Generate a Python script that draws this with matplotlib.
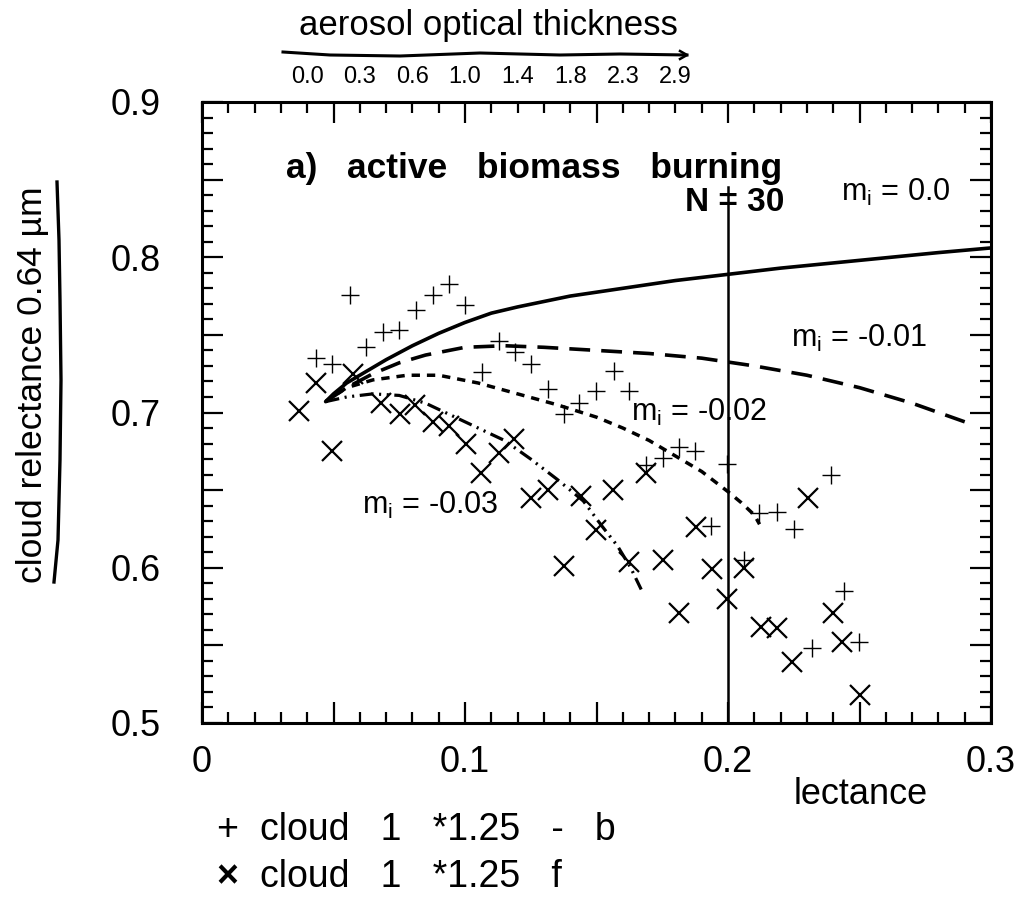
import matplotlib
matplotlib.use('Agg')
import matplotlib.pyplot as plt
import matplotlib.transforms as mtransforms
from matplotlib.lines import Line2D
from matplotlib.ticker import MultipleLocator

plt.rcParams['font.family'] = ['Liberation Sans', 'DejaVu Sans']
plt.rcParams['mathtext.fontset'] = 'custom'
plt.rcParams['mathtext.rm'] = 'Liberation Sans'
plt.rcParams['lines.scale_dashes'] = False

# observations: cloud 1 *1.25 - b  (+)
plus_x = [0.0435, 0.0496, 0.0562, 0.0625, 0.0688, 0.0749, 0.0815, 0.0878, 0.0941,
          0.1001, 0.1065, 0.1128, 0.1192, 0.1251, 0.1314, 0.1378, 0.1435, 0.1498,
          0.1565, 0.1624, 0.1688, 0.1751, 0.1814, 0.1875, 0.1934, 0.1997, 0.2061,
          0.2118, 0.2187, 0.2250, 0.2319, 0.2390, 0.2440, 0.2497]
plus_y = [0.735, 0.731, 0.776, 0.742, 0.752, 0.753, 0.766, 0.776, 0.783,
          0.769, 0.726, 0.746, 0.739, 0.731, 0.715, 0.699, 0.706, 0.714,
          0.727, 0.714, 0.666, 0.671, 0.678, 0.675, 0.627, 0.667, 0.605,
          0.635, 0.636, 0.625, 0.548, 0.660, 0.585, 0.552]

# observations: cloud 1 *1.25 f  (x)
cross_x = [0.0370, 0.0435, 0.0496, 0.0574, 0.0682, 0.0751, 0.0808, 0.0878, 0.0941,
           0.1005, 0.1061, 0.1131, 0.1188, 0.1251, 0.1314, 0.1378, 0.1441, 0.1498,
           0.1561, 0.1624, 0.1688, 0.1751, 0.1814, 0.1877, 0.1940, 0.1997, 0.2061,
           0.2124, 0.2187, 0.2244, 0.2305, 0.2400, 0.2433, 0.2503]
cross_y = [0.701, 0.719, 0.675, 0.725, 0.706, 0.699, 0.705, 0.694, 0.691,
           0.680, 0.661, 0.674, 0.683, 0.645, 0.650, 0.601, 0.646, 0.624,
           0.650, 0.604, 0.661, 0.605, 0.571, 0.626, 0.599, 0.580, 0.600,
           0.562, 0.561, 0.539, 0.645, 0.571, 0.552, 0.518]

# model curves for imaginary refractive index m_i
mi0_x = [0.047, 0.05, 0.055, 0.06, 0.07, 0.08, 0.09, 0.10, 0.11, 0.12, 0.14,
         0.16, 0.18, 0.20, 0.22, 0.25, 0.28, 0.30]
mi0_y = [0.707, 0.712, 0.719, 0.724, 0.734, 0.743, 0.751, 0.758, 0.764, 0.768,
         0.775, 0.780, 0.785, 0.789, 0.793, 0.798, 0.803, 0.806]

mi1_x = [0.047, 0.055, 0.065, 0.075, 0.085, 0.10, 0.115, 0.13, 0.15, 0.17,
         0.19, 0.21, 0.23, 0.25, 0.27, 0.29]
mi1_y = [0.707, 0.716, 0.725, 0.732, 0.737, 0.742, 0.743, 0.742, 0.740, 0.738,
         0.735, 0.730, 0.724, 0.716, 0.706, 0.694]

mi2_x = [0.047, 0.055, 0.065, 0.078, 0.09, 0.105, 0.12, 0.135, 0.15, 0.16,
         0.17, 0.18, 0.19, 0.20, 0.205, 0.21, 0.212]
mi2_y = [0.707, 0.716, 0.721, 0.724, 0.724, 0.719, 0.712, 0.705, 0.697, 0.690,
         0.682, 0.672, 0.662, 0.649, 0.642, 0.634, 0.628]

mi3_x = [0.047, 0.055, 0.065, 0.075, 0.085, 0.095, 0.105, 0.115, 0.125, 0.135,
         0.145, 0.152, 0.158, 0.163, 0.167]
mi3_y = [0.707, 0.710, 0.712, 0.711, 0.706, 0.698, 0.690, 0.682, 0.670, 0.657,
         0.643, 0.627, 0.614, 0.600, 0.586]

# N = 30 line
n30_x = [0.2, 0.2]
n30_y = [0.5, 0.845]

# axis ticks
xticks = [0, 0.05, 0.1, 0.15, 0.2, 0.25, 0.3]
xtick_labels = ['0', '', '0.1', '', '0.2', '', '0.3']
yticks = [0.5, 0.55, 0.6, 0.65, 0.7, 0.75, 0.8, 0.85, 0.9]
ytick_labels = ['0.5', '', '0.6', '', '0.7', '', '0.8', '', '0.9']
aot_pos = [0.04, 0.06, 0.08, 0.10, 0.12, 0.14, 0.16, 0.18]
aot_labels = ['0.0', '0.3', '0.6', '1.0', '1.4', '1.8', '2.3', '2.9']

W, H = 1034, 909
fig = plt.figure(figsize=(W / 100, H / 100), dpi=100)
ax = fig.add_axes([202 / W, 1 - 723 / H, (991 - 202) / W, (723 - 102) / H])

ax.plot(mi0_x, mi0_y, color='black', lw=2.6, solid_capstyle='round')
ax.plot(mi1_x, mi1_y, color='black', lw=2.6, dashes=(15, 8))
ax.plot(mi2_x, mi2_y, color='black', lw=2.5, dashes=(6, 5))
ax.plot(mi3_x, mi3_y, color='black', lw=2.3, dashes=(10, 4, 1.5, 4, 1.5, 4))
ax.plot(n30_x, n30_y, color='black', lw=1.8)

ax.plot(plus_x, plus_y, ls='none', marker='+', ms=13, mew=1.0, color='black')
ax.plot(cross_x, cross_y, ls='none', marker='x', ms=14, mew=1.6, color='black')

ax.set_xlim(0, 0.3)
ax.set_ylim(0.5, 0.9)
ax.set_xticks(xticks, labels=xtick_labels)
ax.set_yticks(yticks, labels=ytick_labels)
ax.xaxis.set_minor_locator(MultipleLocator(0.01))
ax.yaxis.set_minor_locator(MultipleLocator(0.01))
ax.tick_params(which='both', direction='in', top=True, right=True, width=1.6,
               labelsize=26)
ax.tick_params(which='major', length=15)
ax.tick_params(which='minor', length=8)
ax.tick_params(axis='x', pad=16)
ax.tick_params(axis='y', pad=30)
for s in ax.spines.values():
    s.set_linewidth(2.2)

sec = ax.secondary_xaxis('top')
sec.set_xticks(aot_pos, labels=aot_labels)
sec.tick_params(length=0, pad=10, labelsize=17)
sec.spines['top'].set_visible(False)

ax.set_xlabel('lectance', fontsize=26)
ax.xaxis.set_label_coords((861 - 202) / (991 - 202), (723 - 795) / 621)
ax.xaxis.label.set_va('center')

# annotations
ax.text(0.032, 0.857, 'a)   active   biomass   burning', fontsize=25.5,
        fontweight='bold', va='center', ha='left')
off = mtransforms.offset_copy(ax.transData, fig=fig, x=5, y=0, units='points')
ax.text(0.2, 0.835, 'N = 30', fontsize=24, fontweight='bold', va='center',
        ha='center', transform=off)
ax.text(0.243, 0.842, r'$\mathregular{m_i}$ = 0.0', fontsize=22, va='center')
ax.text(0.224, 0.748, r'$\mathregular{m_i}$ = -0.01', fontsize=22, va='center')
ax.text(0.163, 0.700, r'$\mathregular{m_i}$ = -0.02', fontsize=22, va='center')
ax.text(0.061, 0.640, r'$\mathregular{m_i}$ = -0.03', fontsize=22, va='center')

fig.text(488 / W, 1 - 25 / H, 'aerosol optical thickness', fontsize=25,
         ha='center', va='center')
fig.text(33 / W, 1 - 385 / H, 'cloud relectance 0.64 µm', fontsize=25.5,
         rotation=90, ha='center', va='center')

# hand drawn brackets
top_x = [283, 330, 400, 480, 560, 620, 687]
top_y = [52, 55, 56, 53, 55, 54, 55]
fig.add_artist(Line2D([v / W for v in top_x], [1 - v / H for v in top_y],
                      color='black', lw=2.2))
fig.add_artist(Line2D([680 / W, 687 / W, 680 / W],
                      [1 - 51 / H, 1 - 55 / H, 1 - 59 / H], color='black', lw=1.8))
left_x = [57, 59, 60, 61, 60, 58, 54]
left_y = [182, 240, 300, 380, 460, 540, 582]
fig.add_artist(Line2D([v / W for v in left_x], [1 - v / H for v in left_y],
                      color='black', lw=2.4))

# legend
fig.text(227 / W, 1 - 830 / H, '+', fontsize=27, ha='center', va='center')
fig.text(260 / W, 1 - 830 / H, 'cloud   1   *1.25   -   b', fontsize=27,
         ha='left', va='center')
fig.text(227 / W, 1 - 877 / H, '×', fontsize=27, fontweight='bold',
         ha='center', va='center')
fig.text(260 / W, 1 - 877 / H, 'cloud   1   *1.25   f', fontsize=27,
         ha='left', va='center')

fig.savefig('out.png', dpi=100)
